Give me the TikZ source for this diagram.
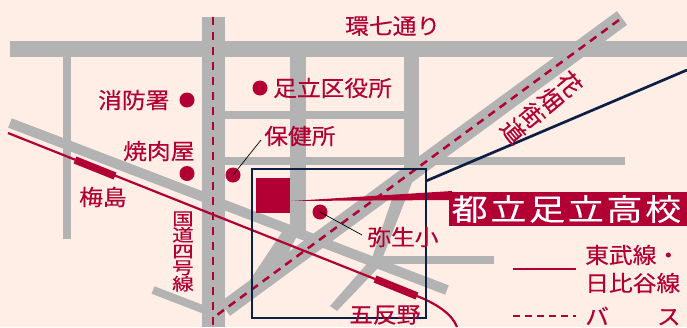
\documentclass[tikz,border=0pt]{standalone}
\usepackage{fontspec}
\setmainfont{Noto Sans CJK JP}
\newfontfamily\mapfont[FakeStretch=1.08,FakeBold=0.3]{Noto Sans CJK JP}
\newfontfamily\bigfont[FakeStretch=1.2,LetterSpace=9,FakeBold=0.3]{Noto Sans CJK JP}
\newfontfamily\tallfont[FakeStretch=1.27,FakeBold=0.3]{Noto Sans CJK JP}
\newfontfamily\diagfont[FakeStretch=1.05,FakeBold=0.3]{Noto Sans CJK JP}
\definecolor{bgc}{HTML}{FEEEE6}
\definecolor{roadc}{HTML}{B3B3B3}
\definecolor{redc}{HTML}{B20034}
\definecolor{navyc}{HTML}{0E1F45}
\tikzset{
  road/.style={draw=roadc,line cap=butt},
  busline/.style={draw=redc,line width=2.5pt,dash pattern=on 7.5pt off 7.5pt},
  rail/.style={draw=redc,line width=2.2pt},
  station/.style={draw=redc,line width=7.5pt},
  spot/.style={circle,fill=redc,minimum size=15pt,inner sep=0pt},
  lbl/.style={text=redc,font=\fontsize{22}{22}\selectfont\mapfont,inner sep=0pt},
  leader/.style={draw=black,line width=.7pt},
  navyline/.style={draw=navyc,line width=2.7pt},
}
\begin{document}
\begin{tikzpicture}[x=1pt,y=-1pt]
\useasboundingbox (0,0) rectangle (687,327);
\fill[bgc] (0,0) rectangle (687,327);
% roads
\draw[road,line width=16pt] (10,49) -- (687,49);
\draw[road,line width=23pt] (213.5,17) -- (213.5,327);
\draw[road,line width=8pt] (67,57) -- (67,239);
\draw[road,line width=16pt] (298,57) -- (298,232);
\draw[road,line width=15pt] (411.5,57) -- (411.5,172);
\draw[road,line width=8pt] (225,115) -- (404,115);
\draw[road,line width=8pt] (225,161) -- (625,161);
\draw[road,line width=17pt] (622,18) -- (225,309);
\draw[road,line width=10pt] (10,123) -- (447,290);
\draw[road,line width=8pt] (153,290) -- (205,310);
\draw[road,line width=8pt] (378,260) -- (494,260);
\fill[roadc] (417,170) -- (395,190) -- (372,258) -- (330,306) -- (337,311) -- (379,267) -- cycle;
\fill[roadc] (282,232) -- (297,236) -- (287,255) -- (250,290) -- (250,280) -- cycle;
% bus route
\draw[busline] (213,17) -- (213,327);
\draw[busline,dash pattern=on 8pt off 6pt] (619,20) -- (217,315);
% rail
\coordinate (railA) at (8,133);
\coordinate (stA1) at (75,160);
\coordinate (stA2) at (115,176);
\coordinate (stB1) at (375,279);
\coordinate (stB2) at (417,296);
\coordinate (railEnd) at (457,327);
\draw[rail] (railA) -- (stB1);
\draw[rail] (stB2) .. controls (437,304) and (452,314) .. (railEnd);
\draw[station] (stA1) -- (stA2);
\draw[station] (stB1) -- (stB2);
% school
\node[fill=redc,minimum width=34pt,minimum height=35pt,inner sep=0pt] (school) at (273,195.5) {};
\node[fill=redc,minimum height=34pt,minimum width=238pt,inner sep=0pt,anchor=west] (schoolbox) at (449,209) {};
\node[text=white,anchor=west,inner sep=0pt,font=\fontsize{30}{30}\selectfont\bigfont] (schoollbl) at (451.5,209) {都立足立高校};
\fill[redc] (291,201) -- (452,191) -- (452,200) -- cycle;
% box
\draw[navyline] (252,169) rectangle (426,318);
\coordinate (boxR) at (426,181);
\coordinate (farR) at (687,70);
\draw[navyline] (boxR) -- (farR);
% spots
\node[spot] (d1) at (187,100) {};
\node[spot] (d2) at (260,88) {};
\node[spot] (d3) at (187,173.5) {};
\node[spot] (d4) at (233,175) {};
\node[spot] (d5) at (320,212) {};
\coordinate (l4) at (261,140);
\coordinate (l5) at (362,235);
\draw[leader] (d4.center) -- (l4);
\draw[leader] (d5.center) -- (l5);
% labels
\node[lbl,anchor=west] (n1) at (345,26) {環七通り};
\node[lbl,anchor=west] (n2) at (98,100) {消防署};
\node[lbl,anchor=west] (n3) at (273,88) {足立区役所};
\node[lbl,anchor=west] (n4) at (264,136) {保健所};
\node[lbl,anchor=west] (n5) at (123,151) {焼肉屋};
\node[lbl,anchor=west] (n6) at (79,197) {梅島};
\node[lbl,anchor=west] (n7) at (367,237) {弥生小};
\node[lbl,anchor=west] (n8) at (349,315) {五反野};
\node[lbl,anchor=west] (n9) at (585,255) {東武線・};
\node[lbl,anchor=west] (n10) at (585,283) {日比谷線};
\node[lbl,anchor=west] (n11) at (585,316) {バ\hspace{48pt}ス};
\node[lbl] (n12) at (183,251.5) {\fontsize{17}{16.3}\selectfont\tallfont\vbox{\lineskiplimit=-100pt\hbox{国}\hbox{道}\hbox{四}\hbox{号}\hbox{線}}};
\node[lbl,rotate=-50] (n13) at (541.5,107.5) {\fontsize{23}{24.5}\selectfont\diagfont\vbox{\lineskiplimit=-100pt\hbox{花}\hbox{畑}\hbox{街}\hbox{道}}};
% legend
\coordinate (la) at (513,269);
\coordinate (lb) at (576,269);
\coordinate (lc) at (513,316);
\coordinate (ld) at (576,316);
\draw[rail] (la) -- (lb);
\draw[busline,dash pattern=on 7pt off 5pt] (lc) -- (ld);
\end{tikzpicture}
\end{document}
